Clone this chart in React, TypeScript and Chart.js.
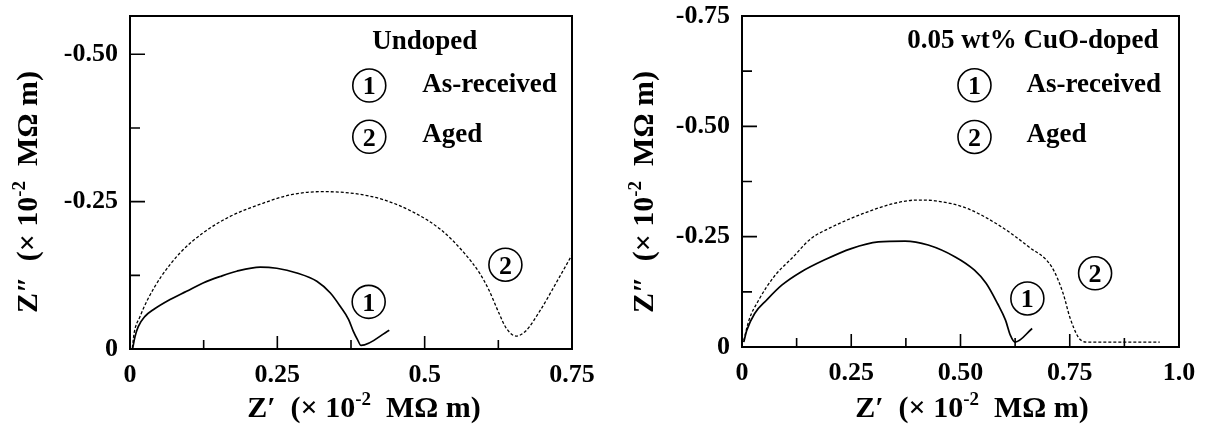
import React, { useEffect, useRef } from "react";
import { Chart, registerables } from "chart.js";

Chart.register(...registerables);

const FONT = "'Liberation Serif', 'Times New Roman', Times, serif";

// ---------- Left panel: Undoped ----------
const undopedAsReceivedX = [0.0045, 0.0085, 0.014, 0.025, 0.040, 0.068, 0.096, 0.124, 0.153, 0.181, 0.221, 0.249, 0.283, 0.317, 0.340, 0.357, 0.371, 0.379, 0.386, 0.392, 0.440];
const undopedAsReceivedY = [-0.001, -0.021, -0.038, -0.055, -0.067, -0.084, -0.098, -0.112, -0.123, -0.132, -0.139, -0.137, -0.129, -0.115, -0.095, -0.072, -0.050, -0.030, -0.016, -0.006, -0.032];
const undopedAgedX = [0.004, 0.007, 0.017, 0.030, 0.053, 0.085, 0.124, 0.170, 0.222, 0.274, 0.327, 0.379, 0.431, 0.483, 0.528, 0.567, 0.593, 0.609, 0.626, 0.638, 0.655, 0.671, 0.697, 0.723, 0.749];
const undopedAgedY = [-0.002, -0.027, -0.055, -0.084, -0.123, -0.163, -0.197, -0.225, -0.246, -0.262, -0.267, -0.264, -0.253, -0.231, -0.202, -0.163, -0.129, -0.100, -0.061, -0.036, -0.022, -0.030, -0.067, -0.112, -0.158];
const undopedXTickLabels = ["0", "0.25", "0.5", "0.75"];
const undopedYTickLabels = ["0", "-0.25", "-0.50"];

// ---------- Right panel: 0.05 wt% CuO-doped ----------
const cuoAsReceivedX = [0.004, 0.011, 0.029, 0.056, 0.091, 0.135, 0.188, 0.250, 0.312, 0.373, 0.426, 0.488, 0.532, 0.559, 0.585, 0.603, 0.614, 0.625, 0.664];
const cuoAsReceivedY = [-0.011, -0.038, -0.076, -0.106, -0.140, -0.170, -0.197, -0.223, -0.238, -0.240, -0.231, -0.204, -0.174, -0.144, -0.098, -0.061, -0.027, -0.011, -0.042];
const cuoAgedX = [0.004, 0.016, 0.038, 0.073, 0.117, 0.157, 0.206, 0.276, 0.347, 0.400, 0.444, 0.515, 0.594, 0.656, 0.709, 0.735, 0.750, 0.769, 0.778, 0.792, 0.876, 0.956];
const cuoAgedY = [-0.015, -0.061, -0.106, -0.159, -0.204, -0.245, -0.272, -0.302, -0.325, -0.333, -0.331, -0.314, -0.272, -0.227, -0.181, -0.121, -0.068, -0.023, -0.014, -0.011, -0.011, -0.011];
const cuoXTickLabels = ["0", "0.25", "0.50", "0.75", "1.0"];
const cuoYTickLabels = ["0", "-0.25", "-0.50", "-0.75"];

type Ann = { kind: "text" | "circle"; x: number; y: number; text: string };

const undopedAnnotations: Ann[] = [
  { kind: "text", x: 0.411, y: -0.509, text: "Undoped" },
  { kind: "circle", x: 0.406, y: -0.447, text: "1" },
  { kind: "text", x: 0.496, y: -0.436, text: "As-received" },
  { kind: "circle", x: 0.406, y: -0.360, text: "2" },
  { kind: "text", x: 0.496, y: -0.352, text: "Aged" },
  { kind: "circle", x: 0.405, y: -0.080, text: "1" },
  { kind: "circle", x: 0.637, y: -0.143, text: "2" },
];

const cuoAnnotations: Ann[] = [
  { kind: "text", x: 0.378, y: -0.677, text: "0.05 wt% CuO-doped" },
  { kind: "circle", x: 0.532, y: -0.593, text: "1" },
  { kind: "text", x: 0.651, y: -0.578, text: "As-received" },
  { kind: "circle", x: 0.532, y: -0.476, text: "2" },
  { kind: "text", x: 0.651, y: -0.465, text: "Aged" },
  { kind: "circle", x: 0.653, y: -0.110, text: "1" },
  { kind: "circle", x: 0.808, y: -0.167, text: "2" },
];

type PanelCfg = {
  left: number;
  xMax: number;
  yMax: number;
  xLabels: string[];
  yLabels: string[];
  s1x: number[];
  s1y: number[];
  s2x: number[];
  s2y: number[];
  anns: Ann[];
  yAxisW: number;
  xAxisH: number;
  padRight: number;
  xTitleCenter: number;
  yTitleX: number;
  yTitleCenter: number;
};

const STEP = 0.125;
const isMajor = (v: number) => Math.abs(v / 0.25 - Math.round(v / 0.25)) < 1e-6;

function titleParts(prime: string) {
  return [
    { t: "Z" + prime, sup: false },
    { t: "  (\u00d7 10", sup: false },
    { t: "-2", sup: true },
    { t: "  M\u03a9 m)", sup: false },
  ];
}

function drawTitle(ctx: CanvasRenderingContext2D, prime: string, cx: number, baseY: number, rotate: boolean) {
  const main = `bold 30px ${FONT}`;
  const sup = `bold 19px ${FONT}`;
  const parts = titleParts(prime);
  let total = 0;
  const widths = parts.map((p) => {
    ctx.font = p.sup ? sup : main;
    const w = ctx.measureText(p.t).width;
    total += w;
    return w;
  });
  ctx.save();
  ctx.fillStyle = "#000";
  ctx.textBaseline = "alphabetic";
  ctx.textAlign = "left";
  if (rotate) {
    ctx.translate(baseY, cx);
    ctx.rotate(-Math.PI / 2);
  } else {
    ctx.translate(cx, baseY);
  }
  let x = -total / 2;
  parts.forEach((p, i) => {
    ctx.font = p.sup ? sup : main;
    ctx.fillText(p.t, x, p.sup ? -12 : 0);
    x += widths[i];
  });
  ctx.restore();
}

function makeDecor(cfg: PanelCfg) {
  return {
    id: "decor",
    afterDraw(chart: any) {
      const { ctx, chartArea: a, scales } = chart;
      const xs = scales.x;
      const ys = scales.y;
      ctx.save();
      ctx.strokeStyle = "#000";
      ctx.lineWidth = 2;
      ctx.strokeRect(a.left, a.top, a.right - a.left, a.bottom - a.top);
      ctx.lineWidth = 1.6;
      ctx.beginPath();
      for (const t of xs.ticks) {
        const px = xs.getPixelForValue(t.value);
        if (px <= a.left + 1 || px >= a.right - 1) continue;
        const len = isMajor(t.value) ? 13 : 9;
        ctx.moveTo(px, a.bottom);
        ctx.lineTo(px, a.bottom - len);
      }
      for (const t of ys.ticks) {
        const py = ys.getPixelForValue(t.value);
        if (py >= a.bottom - 1 || py <= a.top + 1) continue;
        const len = isMajor(t.value) ? 15 : 10;
        ctx.moveTo(a.left, py);
        ctx.lineTo(a.left + len, py);
      }
      ctx.stroke();

      for (const an of cfg.anns) {
        const px = xs.getPixelForValue(an.x);
        const py = ys.getPixelForValue(an.y);
        ctx.fillStyle = "#000";
        if (an.kind === "circle") {
          ctx.lineWidth = 1.6;
          ctx.beginPath();
          ctx.arc(px, py, 16.5, 0, Math.PI * 2);
          ctx.stroke();
          ctx.font = `bold 26px ${FONT}`;
          ctx.textAlign = "center";
          ctx.textBaseline = "alphabetic";
          ctx.fillText(an.text, px, py + 8.8);
        } else {
          ctx.font = `bold 27px ${FONT}`;
          ctx.textAlign = "left";
          ctx.textBaseline = "alphabetic";
          ctx.fillText(an.text, px, py);
        }
      }
      ctx.restore();

      drawTitle(ctx, "\u2032", cfg.xTitleCenter, 417, false);
      drawTitle(ctx, "\u2033", cfg.yTitleCenter, cfg.yTitleX, true);
    },
  };
}

function Panel({ cfg }: { cfg: PanelCfg }) {
  const ref = useRef<HTMLCanvasElement>(null);
  useEffect(() => {
    if (!ref.current) return;
    const tickFont = { family: FONT, size: 26, weight: "bold" as const };
    const chart = new Chart(ref.current, {
      type: "scatter",
      data: {
        datasets: [
          {
            label: "As-received",
            data: cfg.s1x.map((x, i) => ({ x, y: cfg.s1y[i] })),
            showLine: true,
            borderColor: "#000",
            borderWidth: 1.7,
            pointRadius: 0,
            cubicInterpolationMode: "monotone",
            fill: false,
          },
          {
            label: "Aged",
            data: cfg.s2x.map((x, i) => ({ x, y: cfg.s2y[i] })),
            showLine: true,
            borderColor: "#000",
            borderWidth: 1.3,
            borderDash: [3, 2],
            pointRadius: 0,
            cubicInterpolationMode: "monotone",
            fill: false,
          },
        ],
      },
      options: {
        responsive: false,
        animation: false,
        devicePixelRatio: 1,
        layout: { padding: { left: 0, right: cfg.padRight, top: 16, bottom: 0 } },
        plugins: { legend: { display: false }, tooltip: { enabled: false } },
        scales: {
          x: {
            type: "linear",
            min: 0,
            max: cfg.xMax,
            grid: { display: false, drawTicks: false },
            border: { display: false },
            ticks: {
              stepSize: STEP,
              includeBounds: false,
              autoSkip: false,
              maxRotation: 0,
              padding: 11,
              color: "#000",
              font: tickFont,
              callback: (v: any) => {
                const n = Number(v);
                if (!isMajor(n)) return "";
                return cfg.xLabels[Math.round(n / 0.25)] ?? "";
              },
            },
            afterFit: (s: any) => {
              s.height = cfg.xAxisH;
              s.paddingLeft = 0;
              s.paddingRight = 0;
              s.paddingTop = 0;
              s.paddingBottom = 0;
            },
          },
          y: {
            type: "linear",
            min: -cfg.yMax,
            max: 0,
            reverse: true,
            grid: { display: false, drawTicks: false },
            border: { display: false },
            ticks: {
              stepSize: STEP,
              includeBounds: false,
              autoSkip: false,
              padding: 12,
              color: "#000",
              font: tickFont,
              callback: (v: any) => {
                const n = Number(v);
                if (!isMajor(n)) return "";
                return cfg.yLabels[Math.round(-n / 0.25)] ?? "";
              },
            },
            afterFit: (s: any) => {
              s.width = cfg.yAxisW;
              s.paddingLeft = 0;
              s.paddingRight = 0;
              s.paddingTop = 0;
              s.paddingBottom = 0;
            },
          },
        },
      } as any,
      plugins: [makeDecor(cfg)],
    });
    return () => chart.destroy();
  }, []);
  return (
    <canvas
      ref={ref}
      width={603}
      height={431}
      style={{ position: "absolute", left: cfg.left, top: 0, width: 603, height: 431, display: "block" }}
    />
  );
}

const leftCfg: PanelCfg = {
  left: 0,
  xMax: 0.75,
  yMax: 0.565,
  xLabels: undopedXTickLabels,
  yLabels: undopedYTickLabels,
  s1x: undopedAsReceivedX,
  s1y: undopedAsReceivedY,
  s2x: undopedAgedX,
  s2y: undopedAgedY,
  anns: undopedAnnotations,
  yAxisW: 130,
  xAxisH: 82,
  padRight: 31,
  xTitleCenter: 364,
  yTitleX: 37,
  yTitleCenter: 192,
};

const rightCfg: PanelCfg = {
  left: 603,
  xMax: 1.0,
  yMax: 0.75,
  xLabels: cuoXTickLabels,
  yLabels: cuoYTickLabels,
  s1x: cuoAsReceivedX,
  s1y: cuoAsReceivedY,
  s2x: cuoAgedX,
  s2y: cuoAgedY,
  anns: cuoAnnotations,
  yAxisW: 139,
  xAxisH: 84,
  padRight: 27,
  xTitleCenter: 369,
  yTitleX: 50,
  yTitleCenter: 192,
};

export default function App() {
  return (
    <div style={{ position: "fixed", left: 0, top: 0, width: 1206, height: 431, background: "#fff", overflow: "hidden" }}>
      <Panel cfg={leftCfg} />
      <Panel cfg={rightCfg} />
    </div>
  );
}
